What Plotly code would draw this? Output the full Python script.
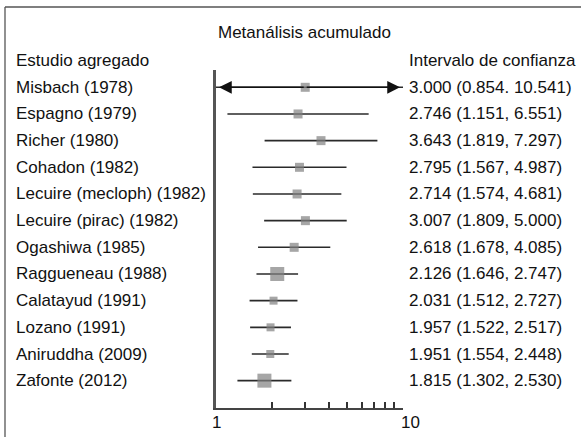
import math
import plotly.graph_objects as go

# ---------------- data ----------------
estudios = ["Misbach (1978)", "Espagno (1979)", "Richer (1980)", "Cohadon (1982)",
            "Lecuire (mecloph) (1982)", "Lecuire (pirac) (1982)", "Ogashiwa (1985)",
            "Raggueneau (1988)", "Calatayud (1991)", "Lozano (1991)",
            "Aniruddha (2009)", "Zafonte (2012)"]
estimacion = [3.000, 2.746, 3.643, 2.795, 2.714, 3.007, 2.618, 2.126, 2.031, 1.957, 1.951, 1.815]
ic_inferior = [0.854, 1.151, 1.819, 1.567, 1.574, 1.809, 1.678, 1.646, 1.512, 1.522, 1.554, 1.302]
ic_superior = [10.541, 6.551, 7.297, 4.987, 4.681, 5.000, 4.085, 2.747, 2.727, 2.517, 2.448, 2.530]
ic_textos = ["3.000 (0.854. 10.541)", "2.746 (1.151, 6.551)", "3.643 (1.819, 7.297)",
             "2.795 (1.567, 4.987)", "2.714 (1.574, 4.681)", "3.007 (1.809, 5.000)",
             "2.618 (1.678, 4.085)", "2.126 (1.646, 2.747)", "2.031 (1.512, 2.727)",
             "1.957 (1.522, 2.517)", "1.951 (1.554, 2.448)", "1.815 (1.302, 2.530)"]
tick_vals = [1, 2, 3, 4, 5, 6, 7, 8, 9, 10]
tick_labels = ["1", "10"]
x_min, x_max = 1, 10

# ---------------- style ----------------
marker_sizes = [9, 9, 9, 9, 9, 9, 9, 14, 8, 8, 8, 14]
FONT = "Liberation Sans, Arial, sans-serif"
FS = 17
W, H = 581, 437
ML, MR, MT, MB = 216, 178, 70, 29
PW, PH = W - ML - MR, H - MT - MB

def px_x(p):
    return (p - ML) / PW

def px_y(p):
    return 1 - (p - MT) / PH

rows = list(range(len(estudios)))
row_px0, row_step = 87.3, 26.67
y_top = -(row_px0 - MT) / row_step
y_bot = (H - MB - row_px0) / row_step

fig = go.Figure()

# CI lines (clipped to axis range)
xs, ys = [], []
for i in rows:
    xs += [max(ic_inferior[i], x_min), min(ic_superior[i], x_max), None]
    ys += [i, i, None]
fig.add_trace(go.Scatter(x=xs, y=ys, mode="lines",
                         line=dict(color="#2a2a2a", width=1.6),
                         hoverinfo="skip", showlegend=False))

# point estimates
fig.add_trace(go.Scatter(x=estimacion, y=rows, mode="markers",
                         marker=dict(symbol="square", size=marker_sizes, color="#808080",
                                     line=dict(width=0)),
                         showlegend=False))

annotations = []
# arrows for CIs beyond the axis range
inset = 3 / PW
for i in rows:
    if ic_inferior[i] < x_min:
        annotations.append(dict(x=math.log10(x_min) + inset, y=i, ax=math.log10(estimacion[i]), ay=i,
                                xref="x", yref="y", axref="x", ayref="y", text="", showarrow=True,
                                arrowhead=2, arrowsize=1.7, arrowwidth=1.5, arrowcolor="#111",
                                standoff=0, startstandoff=0))
    if ic_superior[i] > x_max:
        annotations.append(dict(x=math.log10(x_max) - inset, y=i, ax=math.log10(estimacion[i]), ay=i,
                                xref="x", yref="y", axref="x", ayref="y", text="", showarrow=True,
                                arrowhead=2, arrowsize=1.7, arrowwidth=1.5, arrowcolor="#111",
                                standoff=0, startstandoff=0))

# row labels
for i in rows:
    annotations.append(dict(x=px_x(14), y=i, xref="paper", yref="y", text=estudios[i],
                            showarrow=False, xanchor="left", yanchor="middle",
                            font=dict(family=FONT, size=FS, color="#111")))
    annotations.append(dict(x=px_x(407), y=i, xref="paper", yref="y", text=ic_textos[i],
                            showarrow=False, xanchor="left", yanchor="middle",
                            font=dict(family=FONT, size=FS, color="#111")))

# headers
header_px = row_px0 - row_step
annotations.append(dict(x=px_x(14), y=px_y(header_px), xref="paper", yref="paper", text="Estudio agregado",
                        showarrow=False, xanchor="left", yanchor="middle",
                        font=dict(family=FONT, size=FS, color="#111")))
annotations.append(dict(x=px_x(407), y=px_y(header_px), xref="paper", yref="paper", text="Intervalo de confianza",
                        showarrow=False, xanchor="left", yanchor="middle",
                        font=dict(family=FONT, size=FS, color="#111")))
annotations.append(dict(x=px_x(304), y=px_y(32), xref="paper", yref="paper",
                        text="Metanálisis acumulado", showarrow=False,
                        xanchor="center", yanchor="middle",
                        font=dict(family=FONT, size=FS, color="#111")))

# tick labels
annotations.append(dict(x=math.log10(tick_vals[0]), y=0, xref="x", yref="paper", text=tick_labels[0],
                        showarrow=False, xanchor="center", yanchor="middle", yshift=-14,
                        font=dict(family=FONT, size=FS, color="#111")))
annotations.append(dict(x=math.log10(tick_vals[-1]), y=0, xref="x", yref="paper", text=tick_labels[1],
                        showarrow=False, xanchor="center", yanchor="middle", yshift=-14, xshift=7,
                        font=dict(family=FONT, size=FS, color="#111")))

shapes = [
    dict(type="line", xref="paper", yref="paper", x0=px_x(5), x1=px_x(W + 2), y0=px_y(7), y1=px_y(7),
         line=dict(color="#555", width=1.3)),
    dict(type="line", xref="paper", yref="paper", x0=px_x(5), x1=px_x(5), y0=px_y(7), y1=px_y(H + 2),
         line=dict(color="#555", width=1.3)),
]

fig.update_layout(
    width=W, height=H,
    margin=dict(l=ML, r=MR, t=MT, b=MB, pad=0),
    paper_bgcolor="white", plot_bgcolor="white",
    showlegend=False,
    annotations=annotations,
    shapes=shapes,
    xaxis=dict(type="log", range=[math.log10(x_min), math.log10(x_max)],
               tickvals=tick_vals, ticktext=[""] * len(tick_vals),
               ticks="inside", ticklen=6, tickwidth=1.5, tickcolor="#333",
               showline=True, linecolor="#444", linewidth=2,
               showgrid=False, zeroline=False, fixedrange=True),
    yaxis=dict(range=[y_bot, y_top], showticklabels=False, ticks="",
               showline=True, linecolor="#555", linewidth=2.5,
               showgrid=False, zeroline=False, fixedrange=True),
)

fig.write_html("out.html")
